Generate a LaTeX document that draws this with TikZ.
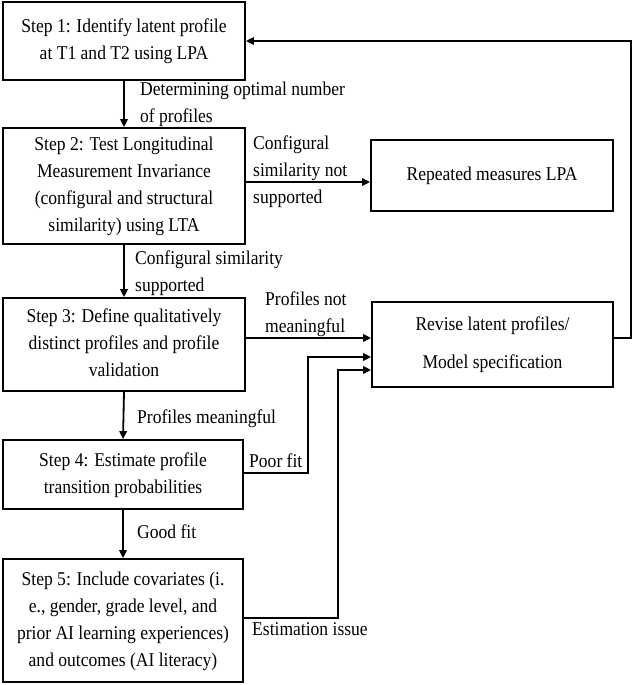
\documentclass[tikz,border=0pt]{standalone}
\usepackage{fontspec}
\setmainfont{Liberation Serif}[FakeStretch=0.9]
\usetikzlibrary{arrows.meta,calc}
\begin{document}
\begin{tikzpicture}[x=1pt,y=1pt,
  box/.style={draw, line width=1.8pt, rectangle, inner sep=0pt, align=center, font=\fontsize{19.5}{27}\selectfont},
  lab/.style={anchor=west, inner sep=0pt, align=left, font=\fontsize{19.5}{27}\selectfont},
  arr/.style={line width=1.8pt, -{Triangle[length=8pt,width=7.5pt]}},
  ln/.style={line width=1.8pt}]
\useasboundingbox (0,0) rectangle (632,-685);
\node[box, minimum width=242pt, minimum height=78pt] (s1) at (124,-41) {\strut Step 1: Identify latent profile\\\strut at T1 and T2 using LPA};
\node[box, minimum width=242pt, minimum height=116pt] (s2) at (124,-186) {\strut Step 2: Test Longitudinal\\\strut Measurement Invariance\\\strut (configural and structural\\\strut similarity) using LTA};
\node[box, minimum width=242pt, minimum height=93pt] (s3) at (124,-344.5) {\strut Step 3: Define qualitatively\\\strut distinct profiles and profile\\\strut validation};
\node[box, minimum width=240pt, minimum height=69pt] (s4) at (123,-474.5) {\strut Step 4: Estimate profile\\\strut transition probabilities};
\node[box, minimum width=240pt, minimum height=123pt] (s5) at (123,-620.5) {\strut Step 5: Include covariates (i.\\\strut e., gender, grade level, and\\\strut prior AI learning experiences)\\\strut and outcomes (AI literacy)};
\node[box, minimum width=242pt, minimum height=71pt] (rep) at (492,-175.5) {\strut Repeated measures LPA};
\node[box, minimum width=241pt, minimum height=85pt] (rev) at (492.5,-344.5) {\strut Revise latent profiles/\\[11pt]\strut Model specification};

\draw[arr] (s1.south) -- (s2.north);
\draw[arr] ([yshift=4pt]s2.east) -- ([yshift=4pt]s2.east -| rep.west);
\draw[arr] (s2.south) -- (s3.north);
\draw[arr] ([yshift=6.5pt]s3.east) -- ([yshift=6.5pt]rev.west);
\draw[arr] (s3.south) -- (s4.north);
\draw[arr] (s4.south) -- (s5.north);
\draw[arr] ([yshift=1.5pt]s4.east) -- ++(64,0) |- ([yshift=-12.5pt]rev.west);
\draw[arr] ([yshift=2.5pt]s5.east) -- ++(94,0) |- ([yshift=-25.5pt]rev.west);
\draw[arr] ([yshift=6.5pt]rev.east) -- ++(17,0) |- (s1.east);

\node[lab] (l1) at (140,-104) {\strut Determining optimal number\\\strut of profiles};
\node[lab] (l2) at (253,-171) {\strut Configural\\\strut similarity not\\\strut supported};
\node[lab] (l3) at (135,-272.5) {\strut Configural similarity\\\strut supported};
\node[lab] (l4) at (265,-313.5) {\strut Profiles not\\\strut meaningful};
\node[lab] (l5) at (137,-418) {\strut Profiles meaningful};
\node[lab] (l6) at (249,-462) {\strut Poor fit};
\node[lab] (l7) at (137,-533) {\strut Good fit};
\node[lab] (l8) at (252,-630) {\strut Estimation issue};
\end{tikzpicture}
\end{document}
